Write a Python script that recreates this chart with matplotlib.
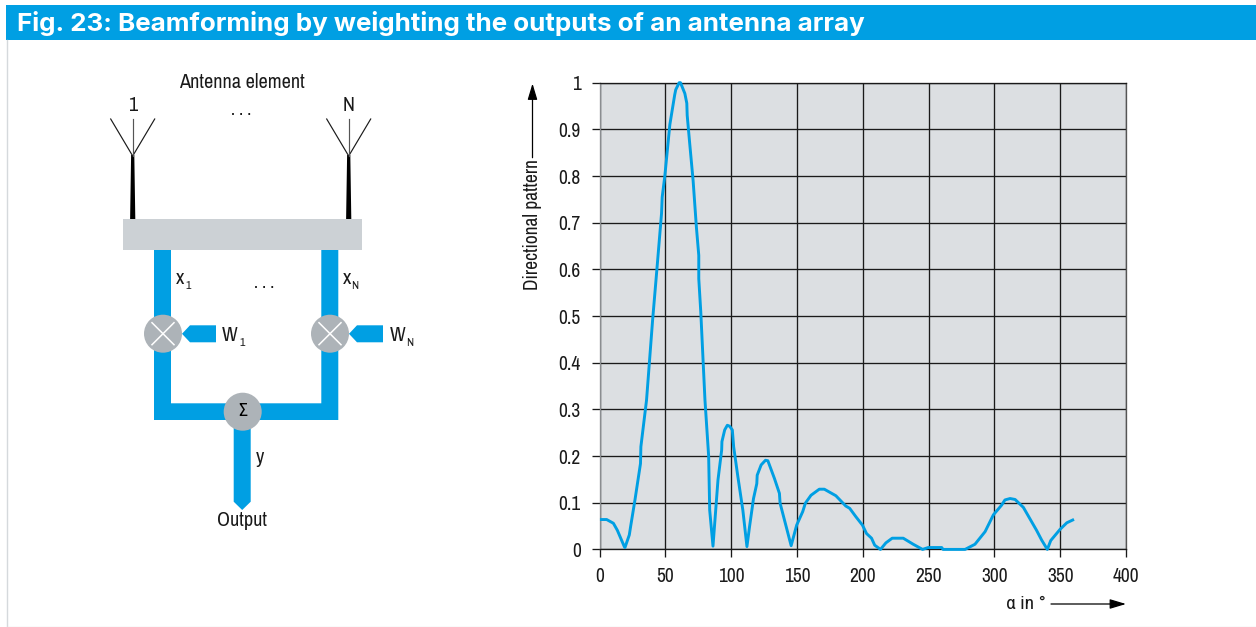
import matplotlib
matplotlib.use("Agg")
import matplotlib.pyplot as plt
from matplotlib.patches import Rectangle, Polygon, Circle

W, H = 1256, 627
BLUE = "#009fe3"
GREY = "#adb3b8"
BOX = "#ccd1d5"
PANEL = "#dcdfe2"
INK = "#1a1a1a"
NARROW = ["Archivo Narrow", "Roboto Condensed", "Liberation Sans", "DejaVu Sans"]
SYMBOL = ["Roboto Condensed", "Liberation Sans", "DejaVu Sans"]

title = "Fig. 23: Beamforming by weighting the outputs of an antenna array"
x_label = "α in °"
y_label = "Directional pattern"
x_ticks = [0, 50, 100, 150, 200, 250, 300, 350, 400]
y_ticks = [0, 0.1, 0.2, 0.3, 0.4, 0.5, 0.6, 0.7, 0.8, 0.9, 1]
y_tick_labels = ["0", "0.1", "0.2", "0.3", "0.4", "0.5", "0.6", "0.7", "0.8", "0.9", "1"]

alpha = [1.3, 5.3, 10.4, 13.4, 18.7, 19.2, 22.5, 23.5, 26.8, 31, 31.3, 35.6, 40.2, 43.2, 47,
         47.5, 49.5, 53.3, 57, 57.8, 60.4, 61.4, 64.7, 66.2, 66.5, 68.4, 71, 73.5, 75.3, 75.3,
         76.8, 80, 82.8, 83.6, 86.1, 89.9, 92.7, 92.9, 95, 97, 98.7, 100.8, 101.8, 105, 108.8,
         111.9, 113.9, 116.9, 119.4, 119.7, 122.7, 126, 127.8, 132.8, 136.6, 137.1, 145.5, 149.7,
         154.3, 156.3, 160.6, 166.9, 170.7, 179.5, 187, 190, 194.7, 199.7, 202.8, 206.6, 209,
         213.4, 217.5, 222.3, 230.7, 238.3, 245.4, 249.7, 259.9, 261, 277.7, 285.2, 292.9, 299.2,
         305.5, 308, 311.9, 315.7, 322, 332, 335.9, 340.2, 342.8, 349.9, 355, 359.5]
pattern = [.064, .064, .056, .041, .006, .004, .031, .049, .106, .184, .22, .32, .491, .591, .72,
           .755, .8, .91, .974, .985, 1.0, 1.0, .977, .956, .93, .87, .79, .69, .63, .58,
           .51, .32, .2, .084, .007, .149, .213, .231, .256, .266, .264, .256, .22, .156, .084,
           .006, .049, .109, .141, .159, .181, .191, .19, .152, .12, .099, .008, .052,
           .081, .099, .116, .129, .129, .115, .093, .088, .07, .052, .034, .024, .009,
           0, .014, .024, .024, .011, 0, .004, .004, 0, 0, .011, .038, .074,
           .095, .106, .109, .107, .09, .041, .02, 0, .019, .043, .057, .063]

fig = plt.figure(figsize=(W / 100, H / 100), dpi=100, facecolor="white")

# Chart panel, positioned in reference pixels
L, R, T, B = 599.7, 1126.0, 82.7, 549.4
ax = fig.add_axes([L / W, 1 - B / H, (R - L) / W, (B - T) / H], facecolor=PANEL, zorder=2)
ax.set_xlim(0, 400)
ax.set_ylim(0, 1)
ax.set_xticks(x_ticks)
ax.set_yticks(y_ticks, y_tick_labels)
ax.grid(True, color=INK, linewidth=0.95)
ax.set_axisbelow(True)
for s in ax.spines.values():
    s.set_color(INK)
    s.set_linewidth(0.95)
ax.spines["left"].set_color("#8a8d90")
ax.spines["right"].set_color("#555555")
ax.tick_params(axis="y", length=5.6, width=0.95, color=INK, pad=8, labelsize=14, labelcolor=INK)
ax.tick_params(axis="x", length=5.6, width=0.95, color=INK, pad=7, labelsize=14, labelcolor=INK)
for t in ax.get_xticklabels() + ax.get_yticklabels():
    t.set_family(NARROW)
ax.plot(alpha, pattern, color=BLUE, linewidth=2.1, clip_on=False, solid_joinstyle="round", zorder=5)

# Overlays in pixel coordinates for the banner and block diagram
ov = fig.add_axes([0, 0, 1, 1], zorder=1)
ov.set_xlim(0, W)
ov.set_ylim(H, 0)
ov.axis("off")
ov2 = fig.add_axes([0, 0, 1, 1], zorder=3, facecolor="none")
ov2.set_xlim(0, W)
ov2.set_ylim(H, 0)
ov2.axis("off")

ov.add_patch(Rectangle((6, 5), W - 6, 35, fc=BLUE, ec="none"))
ov.text(17, 31, title, color="white", fontsize=18.7, fontweight="bold",
        family=["Inter", "Liberation Sans"], va="baseline", ha="left")
ov.plot([6.5, 6.5], [40, H], color="#d5d9dc", lw=1)
ov.plot([6.5, W], [H - 0.5, H - 0.5], color="#e6e8ea", lw=1)


def label(x, y, s, size=14.6, **kw):
    ov.text(x, y, s, fontsize=size, family=NARROW, color=INK, ha=kw.pop("ha", "center"),
            va=kw.pop("va", "center"), **kw)


# Antennas
for cx in (132.7, 348.7):
    ov.add_patch(Polygon([(cx - 1.6, 155), (cx + 1.6, 155), (cx + 2.6, 219), (cx - 2.6, 219)], fc="black", ec="none"))
    ov.plot([cx - 22, cx, cx + 22], [119, 156, 119], color=INK, lw=0.85)
    ov.plot([cx, cx], [119, 156], color="#555555", lw=0.85)

# Signal paths
ov.add_patch(Polygon([(154, 250), (171, 250), (171, 403.3), (321.3, 403.3), (321.3, 250), (338.3, 250),
                      (338.3, 420), (250.7, 420), (250.7, 501.7), (242.2, 510), (233.7, 501.7),
                      (233.7, 420), (154, 420)], fc=BLUE, ec="none"))
ov.add_patch(Rectangle((123, 219), 239, 31, fc=BOX, ec="none"))

# Weight inputs
for right in (216, 383):
    ov.add_patch(Polygon([(right - 34, 333.8), (right - 26, 325.3), (right, 325.3), (right, 342.3), (right - 26, 342.3)],
                         fc=BLUE, ec="none"))

# Multipliers and summer
for cx in (163, 330):
    ov.add_patch(Circle((cx, 333.7), 19, fc=GREY, ec="none", zorder=3))
    ov.plot([cx - 11, cx + 11], [322.7, 344.7], color="white", lw=1.1, zorder=4)
    ov.plot([cx - 11, cx + 11], [344.7, 322.7], color="white", lw=1.1, zorder=4)
ov.add_patch(Circle((242.7, 411.7), 19, fc=GREY, ec="none", zorder=3))
ov.text(242.7, 411, "Σ", fontsize=13, family=SYMBOL, color="black", ha="center", va="center", zorder=4)

# Diagram labels
label(242, 82.5, "Antenna element")
label(132.5, 105.5, "1")
label(348.5, 105.5, "N")
label(241, 115, ". . .", size=13, va="baseline")
label(264, 288, ". . .", size=13, va="baseline")
label(176, 278.5, "x", ha="left")
label(185, 286, "1", size=8.5, ha="left")
label(343.3, 278.5, "x", ha="left")
label(351.5, 286, "N", size=8.5, ha="left")
label(221.7, 335.5, "W", ha="left")
label(239.3, 343.5, "1", size=8.5, ha="left")
label(389.3, 335.5, "W", ha="left")
label(406, 343.5, "N", size=8.5, ha="left")
label(259.5, 457.5, "y")
label(242.5, 520.5, "Output")

# Axis captions with arrows
ARROW = dict(arrowstyle="-|>,head_length=0.7,head_width=0.21", color="black", lw=0.9,
             mutation_scale=14, shrinkA=0, shrinkB=0)
ov2.text(532, 290.5, y_label, rotation=90, fontsize=14, family=NARROW, color=INK,
         ha="center", va="bottom")
ov2.annotate("", xy=(532.5, 83.5), xytext=(532.5, 157.7), arrowprops=ARROW)
ov2.text(1045.5, 604, x_label, fontsize=14, family=["Roboto Condensed", "Liberation Sans"],
         color=INK, ha="right", va="center")
ov2.annotate("", xy=(1126, 604), xytext=(1051, 604), arrowprops=ARROW)

fig.savefig("out.png", dpi=100, facecolor="white")
